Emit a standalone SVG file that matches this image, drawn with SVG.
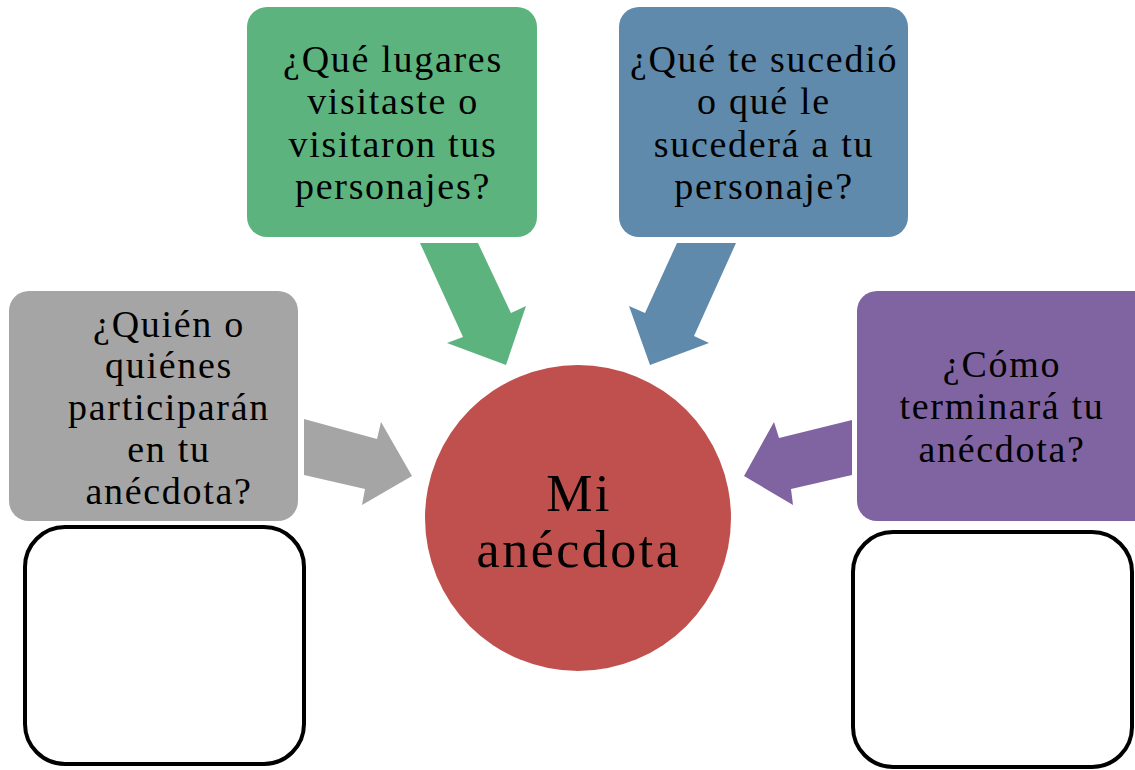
<svg xmlns="http://www.w3.org/2000/svg" width="1135" height="770" viewBox="0 0 1135 770">
<style>
.t{font-family:"Liberation Serif","Times New Roman",serif;font-size:38px;letter-spacing:1.7px;fill:#000;text-anchor:middle}
.c{font-family:"Liberation Serif","Times New Roman",serif;font-size:52px;letter-spacing:2.5px;fill:#000;text-anchor:middle}
.blank{fill:#fff;stroke:#000;stroke-width:4}
</style>
<rect width="1135" height="770" fill="#fff"/>
<g id="connectors">
<polygon fill="#5DB37E" points="420,243 478,243 511,313 526,306 506,365 447,343 463,337"/>
<polygon fill="#5F8AAB" points="736,243 677,243 645,313 629,306 650,365 709,343 694,336"/>
<polygon fill="#A5A5A5" points="304,419 377,439 381,422 412,476 362,505 365,489 304,475"/>
<polygon fill="#8064A2" points="852,420 779,438 774,422 744,476 793,505 791,489 852,475"/>
</g>
<g id="node-center">
<circle cx="578" cy="518" r="153" fill="#C0504D"/>
<text class="c" x="579" y="511">Mi</text>
<text class="c" x="579" y="567">anécdota</text>
</g>
<g id="node-lugares">
<rect x="247" y="7" width="290" height="230" rx="20" fill="#5DB37E"/>
<text class="t" x="393" y="72">¿Qué lugares</text>
<text class="t" x="393" y="114">visitaste o</text>
<text class="t" x="393" y="157">visitaron tus</text>
<text class="t" x="393" y="199">personajes?</text>
</g>
<g id="node-sucedio">
<rect x="619" y="7" width="289" height="230" rx="20" fill="#5F8AAB"/>
<text class="t" x="764" y="72">¿Qué te sucedió</text>
<text class="t" x="764" y="114">o qué le</text>
<text class="t" x="764" y="157">sucederá a tu</text>
<text class="t" x="764" y="199">personaje?</text>
</g>
<g id="node-quien">
<rect x="9" y="291" width="289" height="230" rx="20" fill="#A5A5A5"/>
<text class="t" x="169" y="337">¿Quién o</text>
<text class="t" x="169" y="378">quiénes</text>
<text class="t" x="169" y="420">participarán</text>
<text class="t" x="169" y="462">en tu</text>
<text class="t" x="169" y="504">anécdota?</text>
</g>
<g id="node-como">
<rect x="857" y="291" width="300" height="230" rx="20" fill="#8064A2"/>
<text class="t" x="1002" y="377">¿Cómo</text>
<text class="t" x="1002" y="419">terminará tu</text>
<text class="t" x="1002" y="462">anécdota?</text>
</g>
<g id="node-blank-left">
<rect class="blank" x="25" y="527" width="279" height="237" rx="40"/>
</g>
<g id="node-blank-right">
<rect class="blank" x="853" y="532" width="279" height="235" rx="40"/>
</g>
</svg>
